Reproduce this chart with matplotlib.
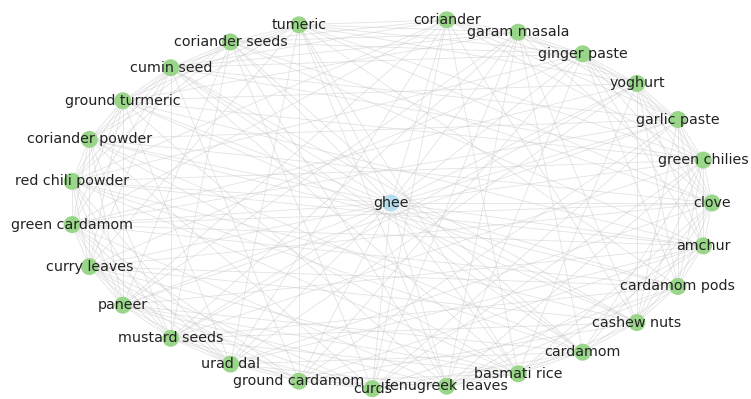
import numpy as np
import matplotlib
matplotlib.use("Agg")
import matplotlib.pyplot as plt

# =========================
# Datos: nodos en orden del circulo (ghee va al centro)
# =========================
nodos = [
    "clove", "green chilies", "garlic paste", "yoghurt", "ginger paste",
    "garam masala", "coriander", "ghee", "tumeric", "coriander seeds",
    "cumin seed", "ground turmeric", "coriander powder", "red chili powder",
    "green cardamom", "curry leaves", "paneer", "mustard seeds", "urad dal",
    "ground cardamom", "curds", "fenugreek leaves", "basmati rice",
    "cardamom", "cashew nuts", "cardamom pods", "amchur",
]
centro = "ghee"

# vecinos de cada ingrediente (aristas entre nodos externos)
vecinos = {
    "clove": ["green chilies", "garlic paste", "yoghurt", "amchur", "cardamom pods",
              "cashew nuts", "tumeric", "coriander powder", "curry leaves",
              "basmati rice", "garam masala", "ginger paste", "coriander seeds",
              "urad dal", "cardamom", "green cardamom"],
    "green chilies": ["garlic paste", "ginger paste", "coriander", "amchur", "cardamom",
                      "red chili powder", "ground turmeric", "mustard seeds",
                      "fenugreek leaves", "yoghurt", "cardamom pods", "cumin seed",
                      "curds", "tumeric", "cashew nuts"],
    "garlic paste": ["ginger paste", "yoghurt", "garam masala", "cumin seed",
                     "coriander powder", "paneer", "cashew nuts", "curds",
                     "amchur", "coriander", "green cardamom", "ground cardamom",
                     "cardamom pods"],
    "yoghurt": ["ginger paste", "garam masala", "coriander", "green cardamom",
                "urad dal", "cardamom pods", "basmati rice", "amchur", "tumeric",
                "ground turmeric", "mustard seeds", "cashew nuts"],
    "ginger paste": ["garam masala", "coriander", "tumeric", "coriander seeds",
                     "red chili powder", "curry leaves", "ground cardamom", "amchur",
                     "cardamom pods", "fenugreek leaves", "cumin seed"],
    "garam masala": ["coriander", "tumeric", "cumin seed", "ground turmeric",
                     "mustard seeds", "fenugreek leaves", "cardamom", "coriander seeds",
                     "paneer", "curds", "cashew nuts"],
    "coriander": ["tumeric", "coriander seeds", "green cardamom", "curds",
                  "cashew nuts", "paneer", "cumin seed", "urad dal", "basmati rice",
                  "red chili powder"],
    "tumeric": ["coriander seeds", "cumin seed", "ground turmeric", "coriander powder",
                "urad dal", "basmati rice", "cardamom pods", "curry leaves",
                "fenugreek leaves", "ground cardamom"],
    "coriander seeds": ["cumin seed", "ground turmeric", "red chili powder", "paneer",
                        "fenugreek leaves", "amchur", "coriander powder",
                        "mustard seeds", "cardamom", "curds"],
    "cumin seed": ["ground turmeric", "coriander powder", "green cardamom",
                   "mustard seeds", "ground cardamom", "cardamom", "curry leaves",
                   "red chili powder", "basmati rice", "cashew nuts"],
    "ground turmeric": ["coriander powder", "red chili powder", "curry leaves",
                        "urad dal", "cashew nuts", "green cardamom", "paneer",
                        "fenugreek leaves", "amchur"],
    "coriander powder": ["red chili powder", "green cardamom", "paneer", "curds",
                         "basmati rice", "curry leaves", "mustard seeds", "cardamom",
                         "cardamom pods"],
    "red chili powder": ["green cardamom", "curry leaves", "mustard seeds",
                         "cardamom", "amchur", "paneer", "urad dal", "basmati rice",
                         "cashew nuts"],
    "green cardamom": ["curry leaves", "paneer", "ground cardamom", "cardamom pods",
                       "fenugreek leaves", "mustard seeds", "urad dal", "amchur"],
    "curry leaves": ["paneer", "mustard seeds", "urad dal", "cashew nuts",
                     "ground cardamom", "curds", "basmati rice", "cardamom pods"],
    "paneer": ["mustard seeds", "curds", "basmati rice", "urad dal", "cardamom",
               "amchur", "fenugreek leaves"],
    "mustard seeds": ["urad dal", "ground cardamom", "cardamom pods", "curds",
                      "basmati rice", "cashew nuts"],
    "urad dal": ["ground cardamom", "curds", "amchur", "fenugreek leaves", "cardamom"],
    "ground cardamom": ["curds", "fenugreek leaves", "cashew nuts", "basmati rice",
                        "amchur"],
    "curds": ["fenugreek leaves", "cardamom", "basmati rice", "cardamom pods"],
    "fenugreek leaves": ["basmati rice", "cardamom pods", "cardamom", "amchur"],
    "basmati rice": ["cardamom", "amchur", "cashew nuts"],
    "cardamom": ["cashew nuts", "cardamom pods"],
    "cashew nuts": ["cardamom pods", "amchur"],
    "cardamom pods": ["amchur"],
}

# =========================
# Layout circular (ghee al centro)
# =========================
n = len(nodos)
pos = {}
for i, nombre in enumerate(nodos):
    ang = 2 * np.pi * i / n
    pos[nombre] = (np.cos(ang), np.sin(ang))
pos[centro] = (0.0, 0.0)

aristas = [(centro, nm) for nm in nodos if nm != centro]
for a, lista in vecinos.items():
    for b in lista:
        aristas.append((a, b))

# =========================
# Dibujo
# =========================
fig = plt.figure(figsize=(7.51, 3.99), dpi=100)
ax = fig.add_axes([0, 0, 1, 1])

for a, b in aristas:
    xa, ya = pos[a]
    xb, yb = pos[b]
    ax.plot([xa, xb], [ya, yb], color="#cccccc", linewidth=0.6, alpha=0.55, zorder=1)

otros = [nm for nm in nodos if nm != centro]
ax.scatter([pos[nm][0] for nm in otros], [pos[nm][1] for nm in otros],
           s=150, color="#9ad68a", edgecolors="none", zorder=2)
ax.scatter([pos[centro][0]], [pos[centro][1]], s=150, color="#b5dcef",
           edgecolors="none", zorder=2)

for nm in nodos:
    ax.text(pos[nm][0], pos[nm][1], nm, fontsize=10.3, color="#222222",
            ha="center", va="center", zorder=3)

ax.set_xlim(-1.218, 1.1215)
ax.set_ylim(-1.0538, 1.0914)
ax.axis("off")

plt.savefig("out.png", dpi=100)
plt.close()
